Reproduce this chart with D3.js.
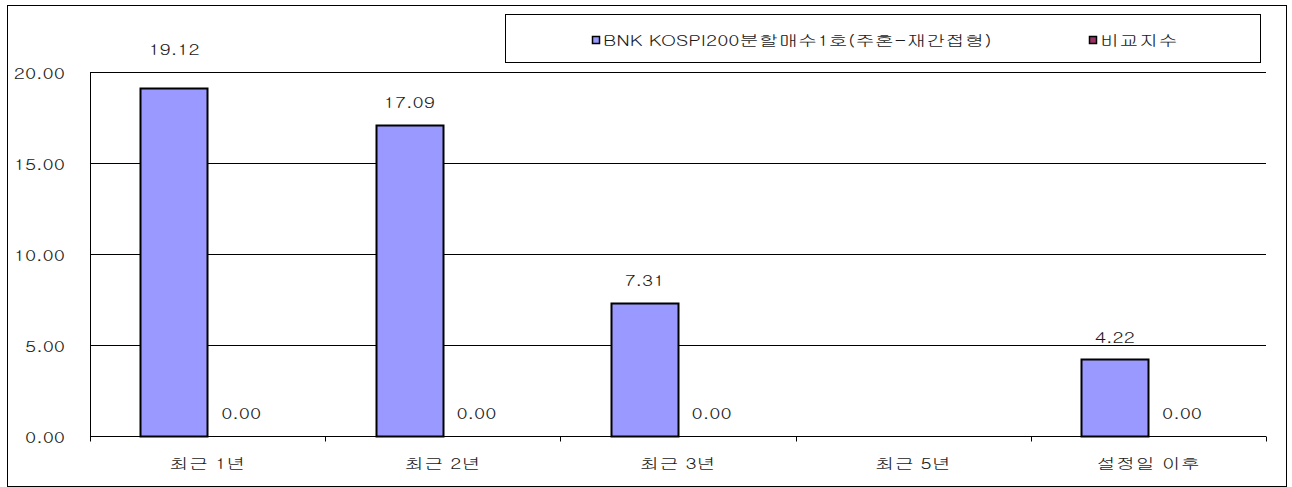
<!DOCTYPE html>
<html>
<head>
<meta charset="utf-8">
<script src="https://cdn.jsdelivr.net/npm/d3@7"></script>
<style>
  body { margin: 0; background: #fff; }
  svg text { font-family: Gulim, "Noto Sans CJK KR", sans-serif; font-size: 15px; fill: #1a1a1a; }
</style>
</head>
<body>
<svg id="chart" width="1292" height="487"></svg>
<script>
var categories = ["최근 1년", "최근 2년", "최근 3년", "최근 5년", "설정일 이후"];
var fundValues = [19.12, 17.09, 7.31, null, 4.22];
var indexValues = [0, 0, 0, null, 0];
var seriesNames = ["BNK KOSPI200분할매수1호(주혼-재간접형)", "비교지수"];
var seriesColors = ["#9999ff", "#993366"];
var yTicks = [0, 5, 10, 15, 20];

var stretch = 1.3;
var svg = d3.select("#chart");

// text helper: Gulim-like wide glyphs, so stretch horizontally
function label (g, x, y, str, anchor) {
  return g.append("text")
    .attr("transform", "translate(" + x + "," + y + ") scale(" + stretch + ",1)")
    .attr("text-anchor", anchor || "middle")
    .attr("dominant-baseline", "central")
    .text(str);
}

svg.append("rect")
  .attr("x", 7.5).attr("y", 5.5)
  .attr("width", 1279).attr("height", 481)
  .attr("fill", "#fff").attr("stroke", "#000");

var x = d3.scaleBand().domain(categories).range([90, 1266]);
var x1 = d3.scaleBand().domain([0, 1]).range([0, x.bandwidth()]).paddingOuter(0.75);
var y = d3.scaleLinear().domain([0, 20]).range([436, 72]);

var grid = svg.append("g");
yTicks.forEach(function (t) {
  grid.append("line")
    .attr("x1", 90).attr("x2", 1266)
    .attr("y1", Math.round(y(t)) + 0.5).attr("y2", Math.round(y(t)) + 0.5)
    .attr("stroke", "#000");
  label(grid, 65, y(t) + 1, d3.format(".2f")(t), "end");
});

// axes
grid.append("line")
  .attr("x1", 90.5).attr("x2", 90.5)
  .attr("y1", y(20)).attr("y2", y(0))
  .attr("stroke", "#000");
var xb = svg.append("g").attr("transform", "translate(0," + (Math.round(y(0)) + 0.5) + ")");
categories.concat([null]).forEach(function (c, i) {
  var px = i < categories.length ? x(c) : x.range()[1];
  xb.append("line")
    .attr("x1", Math.round(px) + 0.5).attr("x2", Math.round(px) + 0.5)
    .attr("y1", 0).attr("y2", 5)
    .attr("stroke", "#000");
});
categories.forEach(function (c) {
  label(svg, x(c) + x.bandwidth() / 2, 463, c);
});

// bars
var series = [fundValues, indexValues];
var bars = svg.append("g");
series.forEach(function (vals, s) {
  vals.forEach(function (v, i) {
    if (v === null) return;
    var bx = x(categories[i]) + x1(s);
    if (v > 0) {
      bars.append("rect")
        .attr("x", Math.round(bx) + 0.5)
        .attr("y", Math.round(y(v)) + 0.5)
        .attr("width", Math.round(x1.bandwidth()))
        .attr("height", Math.round(y(0)) - Math.round(y(v)))
        .attr("fill", seriesColors[s])
        .attr("stroke", "#000")
        .attr("stroke-width", 2);
    }
    var ly = y(v) - 23;
    // label would sit on the top gridline: move it above
    if (ly - 8 < y(20) && ly + 8 > y(20)) ly = y(20) - 23;
    label(bars, bx + x1.bandwidth() / 2, ly, d3.format(".2f")(v));
  });
});

// legend
var lg = svg.append("g");
lg.append("rect")
  .attr("x", 505.5).attr("y", 14.5)
  .attr("width", 755).attr("height", 48)
  .attr("fill", "#fff").attr("stroke", "#000");
var legendX = [592, 1089];
seriesNames.forEach(function (n, s) {
  lg.append("rect")
    .attr("x", legendX[s] + 0.5).attr("y", 36.5)
    .attr("width", 7).attr("height", 7)
    .attr("fill", seriesColors[s]).attr("stroke", "#000").attr("stroke-width", 1.5);
  label(lg, legendX[s] + 11, 40, n, "start");
});
</script>
</body>
</html>
